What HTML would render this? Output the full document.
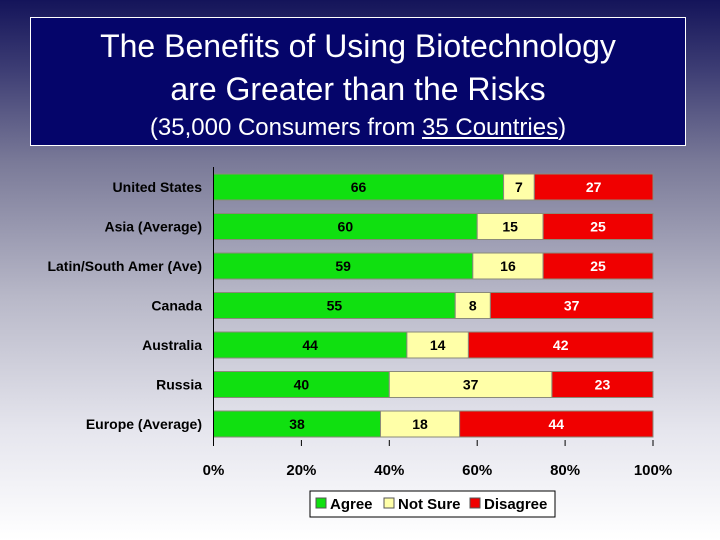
<!DOCTYPE html>
<html><head><meta charset="utf-8"><style>
body{margin:0;width:720px;height:540px;overflow:hidden;font-family:"Liberation Sans",sans-serif;}
#bg{position:absolute;left:0;top:0;width:720px;height:540px;background:linear-gradient(#14145a 0%,#3a3a72 12%,#7a7a98 30%,#b8b8c8 55%,#e6e6ee 80%,#ffffff 100%);}
#title{position:absolute;left:30px;top:17px;width:654px;height:127px;background:#05056a;border:1px solid #fff;color:#fff;text-align:center;}
</style></head><body>
<div id="bg"></div>
<div id="title">
<div style="font-size:32px;line-height:43px;margin-top:7px">The Benefits of Using Biotechnology<br>are Greater than the Risks</div>
<div style="font-size:24px;line-height:30px;margin-top:2px">(35,000 Consumers from <u>35 Countries</u>)</div>
</div>
<svg id="chart" width="720" height="540" style="position:absolute;left:0;top:0"></svg>
<script>
const categories=["United States","Asia (Average)","Latin/South Amer (Ave)","Canada","Australia","Russia","Europe (Average)"];
const agree=[66,60,59,55,44,40,38];
const notSure=[7,15,16,8,14,37,18];
const disagree=[27,25,25,37,42,23,44];
const ticks=[0,20,40,60,80,100];
const seriesNames=["Agree","Not Sure","Disagree"];
const colors=["#10e010","#ffffa8","#f00000"];
const ns="http://www.w3.org/2000/svg";
const svg=document.getElementById('chart');
const X0=213.5,X1=653,TOP=167,PITCH=39.5,BH=26;
const xs=v=>X0+(X1-X0)*v/100;
const yb=i=>TOP+7+i*PITCH;
function el(t,a){const e=document.createElementNS(ns,t);for(const k in a)e.setAttribute(k,a[k]);svg.appendChild(e);return e;}
const series=[agree,notSure,disagree];
categories.forEach((c,i)=>{
  let cum=0;
  series.forEach((s,j)=>{
    const v=s[i];
    const r=el('rect',{x:xs(cum),y:yb(i),width:xs(cum+v)-xs(cum),height:BH,fill:colors[j],stroke:'#8a8a7a','stroke-width':1});
    
    
    const t=el('text',{x:xs(cum+v/2),y:yb(i)+BH/2+5,'text-anchor':'middle','font-size':14,'font-weight':'bold',fill:j==2?'#fff':'#000'});
    t.textContent=v;
    
    
    cum+=v;
  });
  const l=el('text',{x:202,y:yb(i)+BH/2+5,'text-anchor':'end','font-size':14,'font-weight':'bold',fill:'#000'});
  l.textContent=c;
  
  
});
const ax=el('line',{x1:X0,y1:TOP,x2:X0,y2:TOP+7*PITCH,stroke:'#000','stroke-width':1});


ticks.forEach(t=>{
  const tk=el('line',{x1:xs(t),y1:440,x2:xs(t),y2:446,stroke:'#000'});
  
  
  const tl=el('text',{x:xs(t),y:475,'text-anchor':'middle','font-size':15,'font-weight':'bold',fill:'#000'});
  tl.textContent=t+'%';
  
  
});
const lg=el('rect',{x:310,y:491,width:245,height:26,fill:'#fff',stroke:'#000'});


const lx=[316,384,470];
seriesNames.forEach((n,j)=>{
  const r=el('rect',{x:lx[j],y:498,width:10,height:10,fill:colors[j],stroke:'#555'});
  
  
  const t=el('text',{x:lx[j]+14,y:509,'font-size':15,'font-weight':'bold',fill:'#000'});
  t.textContent=n;
  
  
});
</script>
</body></html>
